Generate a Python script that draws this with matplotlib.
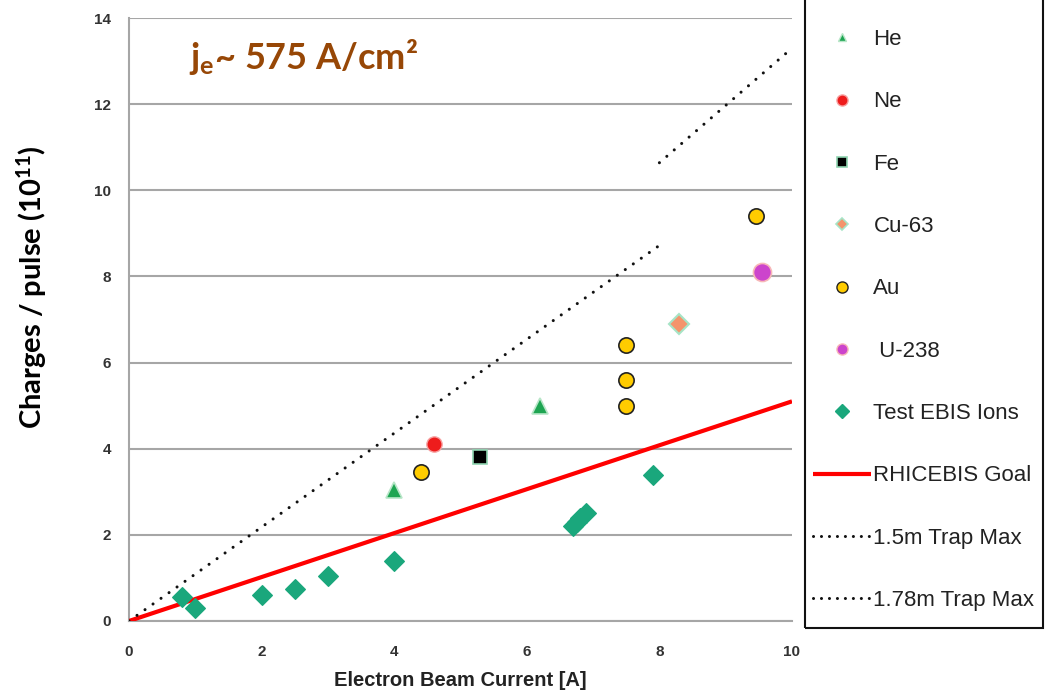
import matplotlib
matplotlib.use("Agg")
import matplotlib.pyplot as plt
from matplotlib.lines import Line2D
from matplotlib.patches import Rectangle

# Measured charge yield per ion species vs. electron beam current
he_x = [4.0, 6.2]
he_y = [3.05, 5.0]
ne_x = [4.6]
ne_y = [4.1]
fe_x = [5.3]
fe_y = [3.8]
cu_x = [8.3]
cu_y = [6.9]
au_x = [4.4, 7.5, 7.5, 7.5, 9.45]
au_y = [3.45, 6.4, 5.6, 5.0, 9.4]
u_x = [9.55]
u_y = [8.1]
test_x = [0.8, 1.0, 2.0, 2.5, 3.0, 4.0, 6.7, 6.75, 6.8, 6.9, 7.9]
test_y = [0.55, 0.3, 0.6, 0.75, 1.05, 1.4, 2.2, 2.3, 2.4, 2.5, 3.4]

# Reference lines
goal_x = [0, 10]
goal_y = [0, 5.1]
trap15_x = [0, 8]
trap15_y = [0, 8.72]
trap178_x = [8, 10]
trap178_y = [10.64, 13.3]

x_ticks = [0, 2, 4, 6, 8, 10]
y_ticks = [0, 2, 4, 6, 8, 10, 12, 14]

plt.rcParams["mathtext.default"] = "regular"

fig = plt.figure(figsize=(10.47, 6.91), dpi=100)
ax = fig.add_axes([129 / 1047, 1 - 621 / 691, (792 - 129) / 1047, (621 - 18) / 691])

grid_c = "#a6a6a6"
ax.set_xlim(0, 10)
ax.set_ylim(0, 14)
ax.set_xticks(x_ticks)
ax.set_yticks(y_ticks)
ax.yaxis.grid(True, color=grid_c, linewidth=1.5)
ax.set_axisbelow(True)
for s in ["top", "right"]:
    ax.spines[s].set_visible(False)
ax.spines["left"].set_color(grid_c)
ax.spines["left"].set_linewidth(1.5)
ax.spines["bottom"].set_color(grid_c)
ax.spines["bottom"].set_linewidth(1.5)
ax.tick_params(length=0, labelsize=11, labelcolor="#333333")
ax.tick_params(axis="x", pad=17)
ax.tick_params(axis="y", pad=13)
for lab in ax.get_xticklabels() + ax.get_yticklabels():
    lab.set_fontfamily("Liberation Sans")
    lab.set_fontweight("bold")

ax.set_xlabel("Electron Beam Current [A]", fontsize=14.5, fontweight="bold",
              family="Liberation Sans", color="#222222", labelpad=9)
ax.set_ylabel("Charges / pulse (10$^{11}$)", fontsize=21, fontweight="bold",
              family="Lato")
ax.yaxis.set_label_coords(-0.121, 0.554)

# Lines
goal, = ax.plot(goal_x, goal_y, color="#ff0000", linewidth=3, label="RHICEBIS Goal",
                solid_capstyle="butt", zorder=3)
t15, = ax.plot(trap15_x, trap15_y, color="#111111", linewidth=2.2,
               linestyle=(0, (0.01, 3.2)), dash_capstyle="round", label="1.5m Trap Max", zorder=3)
t178, = ax.plot(trap178_x, trap178_y, color="#111111", linewidth=2.2,
                linestyle=(0, (0.01, 3.2)), dash_capstyle="round", label="1.78m Trap Max", zorder=3)

# Markers
ax.plot(test_x, test_y, "D", color="#1aa77c", markersize=10, markeredgecolor="#1aa77c",
        markeredgewidth=0.8, linestyle="none", zorder=4)
ax.plot(he_x, he_y, "^", color="#1ea552", markersize=11, markeredgecolor="#b8e6c8",
        markeredgewidth=1.2, linestyle="none", zorder=4)
ax.plot(ne_x, ne_y, "o", color="#ee1c1c", markersize=11, markeredgecolor="#f7a0a0",
        markeredgewidth=1.0, linestyle="none", zorder=4)
ax.plot(fe_x, fe_y, "s", color="#000000", markersize=10, markeredgecolor="#8fd4b0",
        markeredgewidth=1.2, linestyle="none", zorder=4)
ax.plot(cu_x, cu_y, "D", color="#f4946c", markersize=10, markeredgecolor="#a6e4c6",
        markeredgewidth=1.5, linestyle="none", zorder=4)
ax.plot(au_x, au_y, "o", color="#ffcc00", markersize=11, markeredgecolor="#222222",
        markeredgewidth=1.2, linestyle="none", zorder=4)
ax.plot(u_x, u_y, "o", color="#cc44cc", markersize=13, markeredgecolor="#f7b8b8",
        markeredgewidth=1.2, linestyle="none", zorder=4)

ax.text(0.09, 0.935, "j$_e$~ 575 A/cm²", transform=ax.transAxes, fontsize=26,
        fontweight="bold", family="Lato", color="#974706", va="center", ha="left")

# Legend handles
handles = [
    Line2D([], [], marker="^", color="#1ea552", markersize=6, linestyle="none",
           markeredgecolor="#b8e6c8"),
    Line2D([], [], marker="o", color="#ee1c1c", markersize=8, linestyle="none",
           markeredgecolor="#f7a0a0"),
    Line2D([], [], marker="s", color="#000000", markersize=6.5, linestyle="none",
           markeredgecolor="#8fd4b0", markeredgewidth=1.2),
    Line2D([], [], marker="D", color="#f4946c", markersize=6, linestyle="none",
           markeredgecolor="#a6e4c6", markeredgewidth=1.2),
    Line2D([], [], marker="o", color="#ffcc00", markersize=8, linestyle="none",
           markeredgecolor="#222222"),
    Line2D([], [], marker="o", color="#cc44cc", markersize=8, linestyle="none",
           markeredgecolor="#f7b8b8"),
    Line2D([], [], marker="D", color="#1aa77c", markersize=7, linestyle="none"),
    goal,
    Line2D([], [], color="#111111", linewidth=2.2, linestyle=(0, (0.01, 2.6)),
           dash_capstyle="round"),
    Line2D([], [], color="#111111", linewidth=2.2, linestyle=(0, (0.01, 2.6)),
           dash_capstyle="round"),
]
labels = ["He", "Ne", "Fe", "Cu-63", "Au", " U-238", "Test EBIS Ions",
          "RHICEBIS Goal", "1.5m Trap Max", "1.78m Trap Max"]
leg = fig.legend(handles, labels, loc="lower left",
                 bbox_to_anchor=(813 / 1047, 1 - 611 / 691),
                 frameon=False, borderaxespad=0, borderpad=0,
                 prop={"family": "Liberation Sans", "size": 16},
                 labelspacing=1.86, handlelength=2.6, handletextpad=0.12)
for t in leg.get_texts():
    t.set_color("#222222")

# Legend box (its top runs past the figure edge)
box_bottom = 1 - 628 / 691
fig.patches.append(Rectangle((805 / 1047, box_bottom), (1043 - 805) / 1047,
                             1.05 - box_bottom, transform=fig.transFigure, fill=False,
                             edgecolor="#111111", linewidth=1.5))

fig.savefig("out.png", dpi=100)
